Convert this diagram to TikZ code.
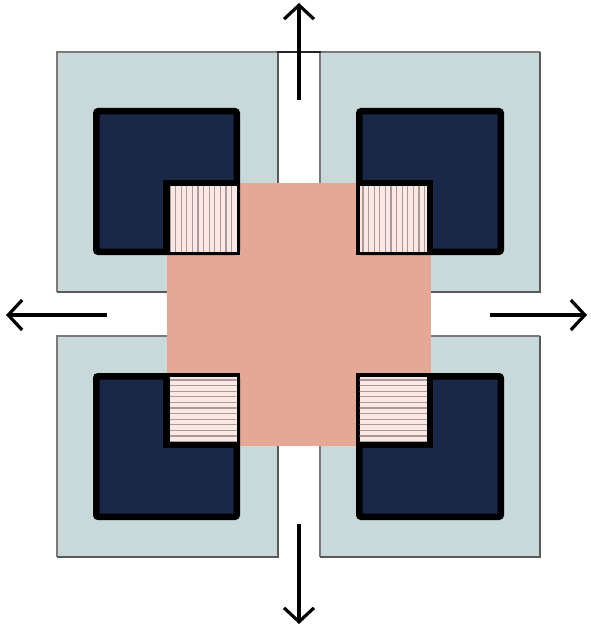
\documentclass[tikz,border=0pt]{standalone}
\usetikzlibrary{arrows.meta}
\definecolor{grayboxc}{HTML}{C9D8D8}
\definecolor{grayedge}{HTML}{7A7A7A}
\definecolor{shadowc}{HTML}{5A5A5A}
\definecolor{pinkc}{HTML}{E6A896}
\definecolor{navyc}{HTML}{182846}
\definecolor{hatchfill}{HTML}{FBE8E4}
\definecolor{hatchline}{HTML}{A89A98}
\tikzset{
  navybox/.style={fill=navyc, draw=black, line width=6.5pt, rounded corners=2pt},
  hatchbox/.style={fill=hatchfill, draw=black, line width=3.5pt},
  notchline/.style={draw=black, line width=6.5pt},
  hatchstroke/.style={draw=hatchline, line width=1.3pt},
  bigarrow/.style={draw=black, line width=3.2pt, -{Straight Barb[length=14pt,width=30pt]}}
}
\newcommand\GrayQuad[4]{%
  \fill[grayboxc] (#1,#2) rectangle (#3,#4);
  \draw[grayedge,line width=1.1pt] (#1,#4) -- (#1,#2) -- (#3,#2);
  \draw[shadowc,line width=2.4pt] (#3,#2) -- (#3,#4) -- (#1,#4);
}
\begin{document}
\begin{tikzpicture}[x=1pt,y=-1pt]
\useasboundingbox (0,0) rectangle (590,628);
% gray outer squares
\GrayQuad{57}{52}{278}{292}
\GrayQuad{320}{52}{540}{292}
\GrayQuad{57}{336}{278}{557}
\GrayQuad{320}{336}{540}{557}
\draw[black!85,line width=1.3pt] (277,52) -- (321,52);
% central pink square
\fill[pinkc] (167,183) rectangle (431,446);
% ---- top-left
\draw[navybox] (96.25,111.25) rectangle (236.75,251.75);
\draw[hatchbox] (164.75,181.75) rectangle (238.25,253.25);
\begin{scope}
  \clip (166.5,183.5) rectangle (236.5,251.5);
  \foreach \x in {170,175.6,...,240} \draw[hatchstroke] (\x,180) -- (\x,255);
\end{scope}
\draw[notchline] (166.25,255) -- (166.25,183.25) -- (240,183.25);
% ---- top-right
\draw[navybox] (359.25,111.25) rectangle (500.75,251.75);
\draw[hatchbox] (357.75,181.75) rectangle (431.25,253.25);
\begin{scope}
  \clip (359.5,183.5) rectangle (429.5,251.5);
  \foreach \x in {363,368.6,...,433} \draw[hatchstroke] (\x,180) -- (\x,255);
\end{scope}
\draw[notchline] (429.75,255) -- (429.75,183.25) -- (356,183.25);
% ---- bottom-left
\draw[navybox] (96.25,376.25) rectangle (236.75,516.75);
\draw[hatchbox] (164.75,374.75) rectangle (238.25,446.25);
\begin{scope}
  \clip (166.5,376.5) rectangle (236.5,444.5);
  \foreach \y in {380,385.6,...,448} \draw[hatchstroke] (163,\y) -- (240,\y);
\end{scope}
\draw[notchline] (166.25,373) -- (166.25,444.75) -- (240,444.75);
% ---- bottom-right
\draw[navybox] (359.25,376.25) rectangle (500.75,516.75);
\draw[hatchbox] (357.75,374.75) rectangle (431.25,446.25);
\begin{scope}
  \clip (359.5,376.5) rectangle (429.5,444.5);
  \foreach \y in {380,385.6,...,448} \draw[hatchstroke] (356,\y) -- (433,\y);
\end{scope}
\draw[notchline] (429.75,373) -- (429.75,444.75) -- (356,444.75);
% arrows
\coordinate (upS) at (299,100);   \coordinate (upT) at (299,3);
\coordinate (dnS) at (299,524);   \coordinate (dnT) at (299,624);
\coordinate (lfS) at (107,315);   \coordinate (lfT) at (6,315);
\coordinate (rtS) at (490,315);   \coordinate (rtT) at (587,315);
\draw[bigarrow] (upS) -- (upT);
\draw[bigarrow] (dnS) -- (dnT);
\draw[bigarrow] (lfS) -- (lfT);
\draw[bigarrow] (rtS) -- (rtT);
\end{tikzpicture}
\end{document}
